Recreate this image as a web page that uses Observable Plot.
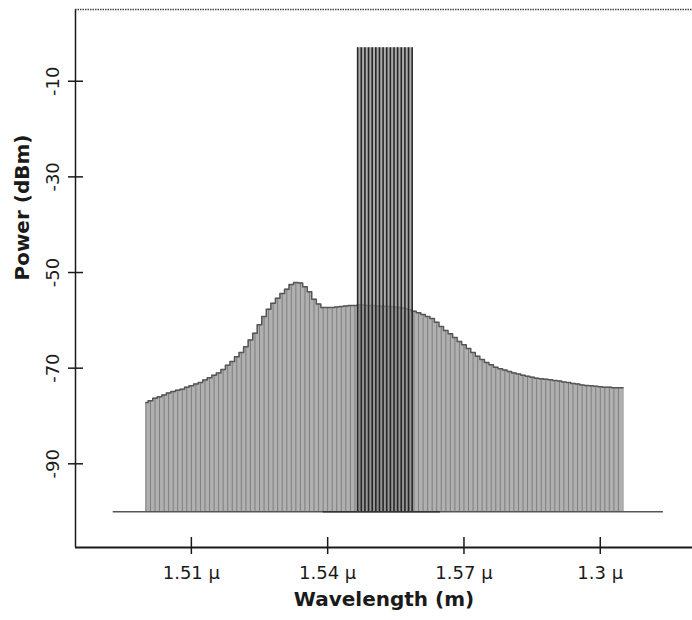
<!DOCTYPE html>
<html><head><meta charset="utf-8">
<script src="https://cdn.jsdelivr.net/npm/d3@7"></script>
<script src="https://cdn.jsdelivr.net/npm/@observablehq/plot@0.6"></script>
<style>
html,body{margin:0;padding:0;background:#fff;}
#chart{width:692px;height:620px;overflow:hidden;}
</style></head><body><div id="chart"></div>
<script>
// ASE noise spectrum, sampled every 0.001 µm starting at 1.500 µm (dBm)
const noiseStart = 1.500;
const noiseStep = 0.001;
const noisePower = [
  -77.2, -76.8, -76.3, -76.0, -75.6, -75.2, -74.9, -74.6, -74.4, -74.0,
  -73.7, -73.3, -73.0, -72.5, -72.0, -71.5, -71.0, -70.3, -69.4, -68.6,
  -67.6, -66.7, -65.5, -64.1, -62.7, -60.9, -59.2, -57.7, -56.4, -55.4,
  -54.4, -53.5, -52.5, -52.1, -52.2, -53.0, -54.0, -55.6, -56.6, -57.3,
  -57.3, -57.3, -57.2, -57.1, -57.0, -56.9, -56.9, -56.8, -56.8, -56.9,
  -56.9, -57.0, -57.0, -57.1, -57.1, -57.2, -57.3, -57.5, -57.8, -58.1,
  -58.4, -58.8, -59.2, -59.6, -60.4, -61.3, -62.1, -62.8, -63.6, -64.4,
  -65.1, -65.9, -66.7, -67.5, -68.2, -68.8, -69.3, -69.8, -70.1, -70.4,
  -70.7, -71.0, -71.2, -71.5, -71.7, -71.9, -72.1, -72.2, -72.3, -72.4,
  -72.6, -72.7, -72.9, -73.0, -73.2, -73.3, -73.5, -73.6, -73.7, -73.8,
  -73.9, -74.0, -74.0, -74.1, -74.1, -74.1
];
// WDM signal channels (µm) and their power (dBm)
const channelWavelength = [1.5466, 1.5474, 1.5482, 1.5490, 1.5498, 1.5506, 1.5514, 1.5522,
                           1.5530, 1.5538, 1.5546, 1.5554, 1.5562, 1.5570, 1.5578, 1.5586];
const channelPower = [-3, -3, -3, -3, -3, -3, -3, -3, -3, -3, -3, -3, -3, -3, -3, -3];
const baselinePower = -100;
const noiseBaselineSpan = [1.4928, 1.6139];
const signalBaselineSpan = [1.5390, 1.5648];
const yTicks = [-10, -30, -50, -70, -90];
const yTickLabels = ["-10", "-30", "-50", "-70", "-90"];
const xTicks = [1.51, 1.54, 1.57, 1.60];
const xTickLabels = ["1.51 μ", "1.54 μ", "1.57 μ", "1.3 μ"];
const xDomain = [1.4845, 1.6203];
const yDomain = [-107.5, 5];

const noise = noisePower.map((p, i) => ({w: noiseStart + i * noiseStep, p}));
const channels = channelWavelength.map((w, i) => ({w, p: channelPower[i]}));

const chart = Plot.plot({
  width: 692, height: 620,
  marginLeft: 75, marginRight: 0, marginTop: 9, marginBottom: 73,
  style: {fontFamily: "DejaVu Sans", background: "#fff", color: "#1a1a1a"},
  x: {domain: xDomain, label: null},
  y: {domain: yDomain, label: null},
  marks: [
    Plot.areaY(noise, {x: "w", y1: baselinePower, y2: "p", curve: "step", fill: "#b0b0b0"}),
    Plot.ruleX(noise, {x: "w", y1: baselinePower, y2: "p", stroke: "#7e7e7e", strokeWidth: 1}),
    Plot.lineY(noise, {x: "w", y: "p", curve: "step", stroke: "#555", strokeWidth: 1.5}),
    Plot.areaY(channels, {x: "w", y1: baselinePower, y2: "p", fill: "#8f8f8f", fillOpacity: 0.75}),
    Plot.ruleX(channels, {x: "w", y1: baselinePower, y2: "p", stroke: "#262626", strokeWidth: 1.6}),
    Plot.ruleY([baselinePower], {x1: noiseBaselineSpan[0], x2: noiseBaselineSpan[1], stroke: "#555", strokeWidth: 1.5}),
    Plot.ruleY([baselinePower], {x1: signalBaselineSpan[0], x2: signalBaselineSpan[1], stroke: "#333", strokeWidth: 1.5}),
    Plot.ruleX([xDomain[0]], {stroke: "#1a1a1a", strokeWidth: 1.5}),
    Plot.ruleY([yDomain[0]], {stroke: "#1a1a1a", strokeWidth: 2}),
    Plot.ruleY([yDomain[1]], {stroke: "#444", strokeWidth: 1.5, strokeDasharray: "1.5,1"}),
    Plot.axisY(yTicks, {tickSize: 15, dx: 8, text: null, label: null, stroke: "#1a1a1a", strokeWidth: 1.5}),
    Plot.axisY(yTicks, {tickSize: 0, tickPadding: 22, rotate: -90, textAnchor: "middle", label: null, fontSize: 18, fill: "#1a1a1a",
      tickFormat: d => yTickLabels[yTicks.indexOf(d)]}),
    Plot.axisX(xTicks, {tickSize: 17, dy: -10, text: null, label: null, stroke: "#1a1a1a", strokeWidth: 1.5}),
    Plot.axisX(xTicks, {tickSize: 0, tickPadding: 19, label: null, fontSize: 18, fill: "#1a1a1a",
      tickFormat: d => xTickLabels[xTicks.indexOf(d)]}),
    Plot.text(["Wavelength (m)"], {frameAnchor: "bottom", lineAnchor: "middle", dy: 52, fontWeight: "bold", fontSize: 20, fill: "#1a1a1a"}),
    Plot.text(["Power (dBm)"], {frameAnchor: "left", dx: -53, dy: 2, rotate: -90, fontWeight: "bold", fontSize: 20, fill: "#1a1a1a"})
  ]
});
document.getElementById("chart").appendChild(chart);
</script>
</body></html>
